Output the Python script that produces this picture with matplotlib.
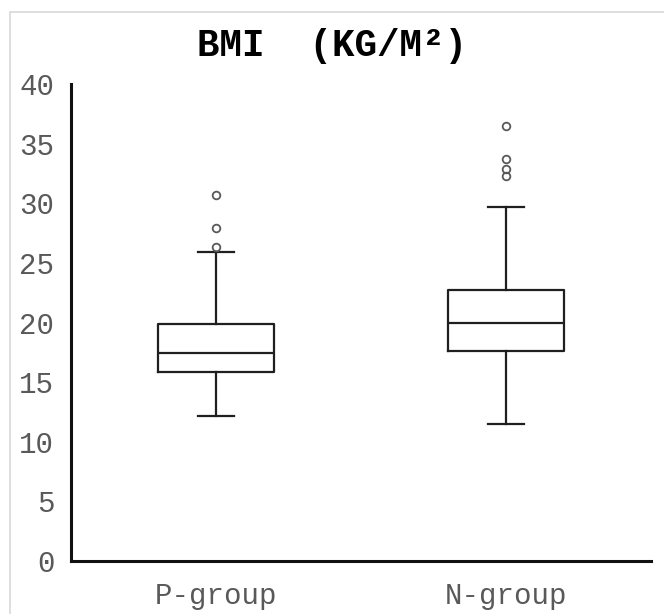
"""BMI box plot by group."""
import matplotlib.pyplot as plt
from matplotlib.patches import Rectangle

groups = ["P-group", "N-group"]
whislo = [12.2, 11.5]
q1 = [15.85, 17.65]
med = [17.45, 20.0]
q3 = [19.9, 22.7]
whishi = [25.9, 29.7]
fliers = [[26.3, 27.9, 30.7], [32.3, 32.9, 33.7, 36.45]]

plt.rcParams["font.family"] = ["Liberation Mono", "DejaVu Sans Mono"]

fig = plt.figure(figsize=(6.64, 6.14), dpi=100)
# light frame around the chart area (cut off at right/bottom in the original)
fig.patches.append(Rectangle((10 / 664, -0.05), 1.2, 1 - 12 / 614 + 0.05,
                             transform=fig.transFigure, fill=False,
                             edgecolor="#d9d9d9", linewidth=1.2))
ax = fig.add_axes([71 / 664, 1 - 561 / 614, 580 / 664, 477 / 614])

stats = []
for i, name in enumerate(groups):
    stats.append({"label": name, "whislo": whislo[i], "q1": q1[i], "med": med[i],
                  "q3": q3[i], "whishi": whishi[i], "fliers": fliers[i]})

line = {"color": "#1f1f1f", "linewidth": 1.6}
ax.bxp(stats, positions=[1, 2], widths=0.4, capwidths=0.125,
       boxprops=line, medianprops=line, whiskerprops=line, capprops=line,
       flierprops={"marker": "o", "markersize": 5.5, "markerfacecolor": "none",
                   "markeredgecolor": "#595959", "markeredgewidth": 1.3})

ax.set_xlim(0.5, 2.5)
ax.set_ylim(0, 40)
ax.set_yticks(range(0, 41, 5))
for side in ("top", "right"):
    ax.spines[side].set_visible(False)
for side in ("left", "bottom"):
    ax.spines[side].set_linewidth(2.2)
    ax.spines[side].set_color("#111111")
ax.tick_params(length=0, labelsize=21, labelcolor="#595959")
ax.tick_params(axis="y", pad=12)
ax.tick_params(axis="x", pad=15)

fig.text(0.5, 1 - 56 / 614, "BMI  (KG/M\u00b2)", ha="center", va="baseline",
         fontsize=27, fontweight="bold", color="black")

fig.savefig("out.png", dpi=100)
